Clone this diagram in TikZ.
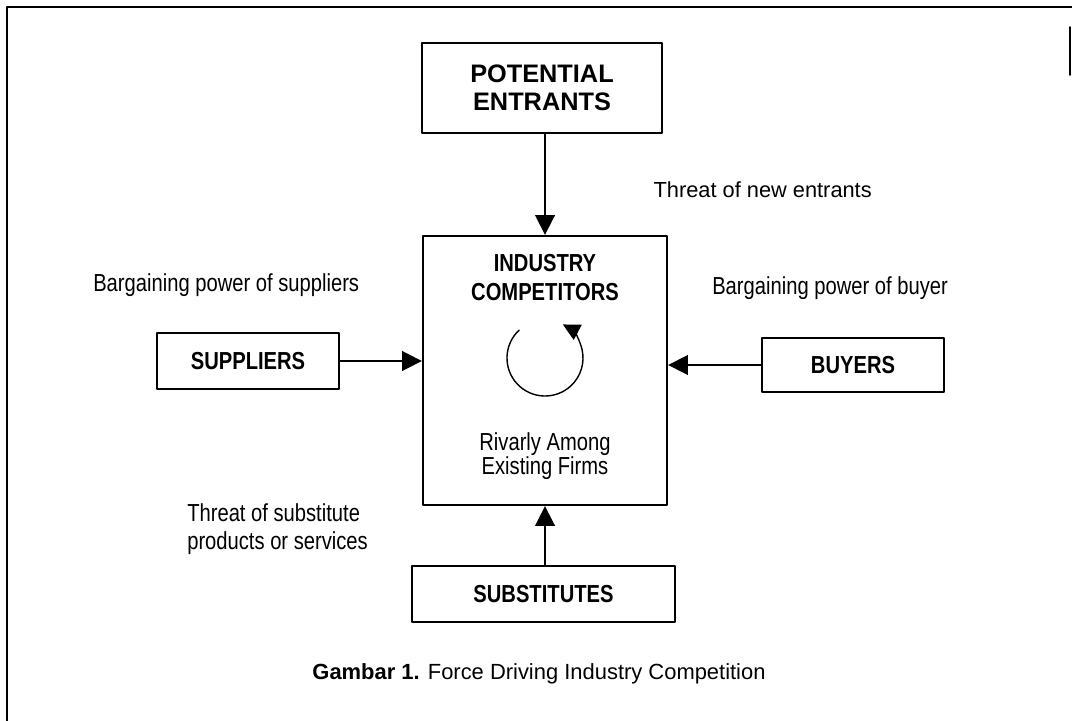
\documentclass[tikz,border=0pt]{standalone}
\usepackage{fontspec}
\setmainfont{Liberation Sans}[FakeStretch=0.82]
\newfontfamily\widefont{Liberation Sans}
\usetikzlibrary{arrows.meta}

\tikzset{force/.style={draw,line width=1.6pt,inner sep=0pt,font=\bfseries,align=center},
         label/.style={inner sep=0pt,align=left}}

\begin{document}
\begin{tikzpicture}[line cap=round,line join=round,>={Triangle[length=14pt,width=14pt]},x=0.025cm,y=-0.025cm]
\useasboundingbox (0,0) rectangle (1072,721);
\fontsize{17.5}{21}\selectfont
% page frame
\draw [line width=2pt] (7,721) -- (7,7) -- (1072,7);
\draw [line width=1.2pt] (1070,27) -- (1070,75);

% the five boxes
\node [force,minimum width=6cm,minimum height=2.25cm,font=\widefont\bfseries\fontsize{18}{20}\selectfont] (entrants) at (542,88) {POTENTIAL\\ENTRANTS};
\node [draw,line width=1.6pt,minimum width=6.1cm,minimum height=6.725cm] (industry) at (545,370.5) {};
\node [force,minimum width=4.55cm,minimum height=1.4cm] (suppliers) at (248,361) {SUPPLIERS};
\node [force,minimum width=4.55cm,minimum height=1.35cm] (buyers) at (853,365) {BUYERS};
\node [force,minimum width=6.575cm,minimum height=1.4cm] (substitutes) at (543.5,594) {SUBSTITUTES};

\node [force,draw=none] (indtitle) at (545,277.5) {INDUSTRY\\COMPETITORS};
\node [label,align=center,font=\fontsize{17.5}{17}\selectfont] (rivalry) at (545,456) {Rivarly Among\\Existing Firms};
% rivalry loop, radius given in cm so the angles run on the page
\draw [->,>={Triangle[length=12pt,width=12pt]},line width=1pt] (545,358) ++(133:0.95cm) arc [start angle=133,end angle=422,radius=0.95cm];

% forces
\draw [->,line width=1.2pt] (entrants.south -| industry) -- (industry.north);
\draw [->,line width=1.2pt] (suppliers.east) -- (suppliers.east -| industry.west);
\draw [->,line width=1.2pt] (buyers.west) -- (buyers.west -| industry.east);
\draw [->,line width=1.2pt] (substitutes.north -| industry) -- (industry.south);

\node [label,anchor=east,font=\widefont\fontsize{15.5}{18}\selectfont] (newthreat) at (872,190) {Threat of new entrants};
\node [label,anchor=west] (supplierpower) at (93,285) {Bargaining power of suppliers};
\node [label,anchor=west] (buyerpower) at (712,288) {Bargaining power of buyer};
\node [label,anchor=west,font=\fontsize{17.5}{20}\selectfont] (subthreat) at (187,529) {Threat of substitute\\products or services};

\node [label,font=\widefont\fontsize{15.6}{18}\selectfont] (caption) at (539,674) {\textbf{Gambar 1.} Force Driving Industry Competition};
\end{tikzpicture}
\end{document}
